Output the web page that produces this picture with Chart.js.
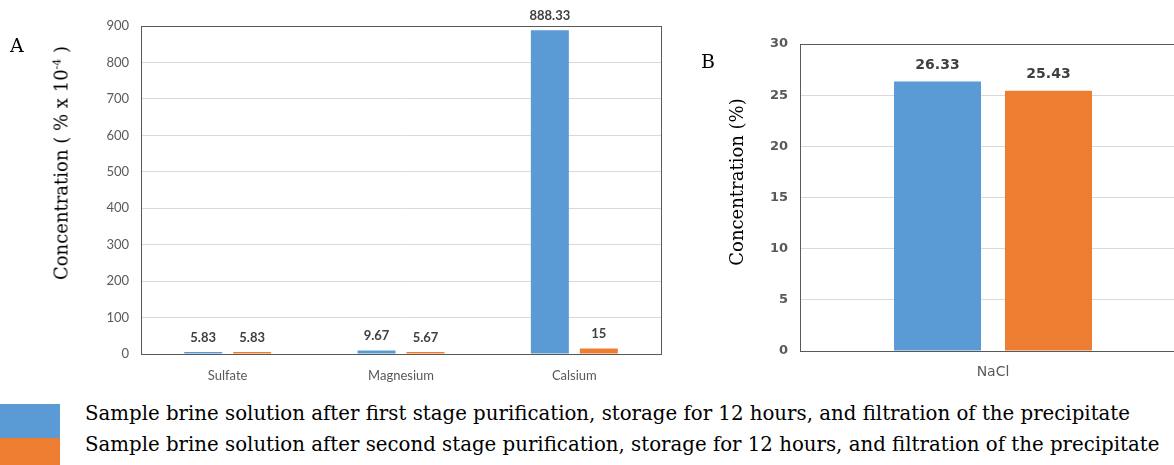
<!DOCTYPE html>
<html>
<head>
<meta charset="utf-8">
<script src="https://cdn.jsdelivr.net/npm/chart.js@4.4.0/dist/chart.umd.min.js"></script>
<style>
  html,body{margin:0;padding:0;background:#fff;width:1174px;height:465px;overflow:hidden;}
  .abs{position:absolute;}
  .serif{font-family:"DejaVu Serif",serif;color:#000;}
  .ytitle{transform:translate(-50%,-50%) rotate(-90deg);white-space:nowrap;font-size:18px;}
  .swatch{left:0;width:60px;}
  .leg{left:85px;font-size:19.75px;white-space:nowrap;}
</style>
</head>
<body>
<canvas id="chartA" class="abs" style="left:0;top:0;"></canvas>
<canvas id="chartB" class="abs" style="left:690px;top:0;"></canvas>

<div class="abs serif" style="left:10px;top:34px;font-size:19px;">A</div>
<div class="abs serif" style="left:701px;top:50px;font-size:19px;">B</div>
<div class="abs serif ytitle" style="left:61px;top:163px;">Concentration ( % x 10<sup style="font-size:11px;">-4</sup> )</div>
<div class="abs serif ytitle" style="left:736px;top:182px;">Concentration (%)</div>

<div class="abs swatch" style="top:404px;height:34px;background:#5B9BD5;"></div>
<div class="abs swatch" style="top:438px;height:27px;background:#ED7D31;"></div>
<div class="abs serif leg" id="leg1" style="top:402px;"></div>
<div class="abs serif leg" id="leg2" style="top:433px;"></div>

<script>
// panel A
const catsA   = ['Sulfate','Magnesium','Calsium'];
const firstA  = [5.83, 9.67, 888.33];
const secondA = [5.83, 5.67, 15];
// panel B
const catsB   = ['NaCl'];
const firstB  = [26.33];
const secondB = [25.43];

const seriesNames = [
  'Sample brine solution after first stage purification, storage for 12 hours, and filtration of the precipitate',
  'Sample brine solution after second stage purification, storage for 12 hours, and filtration of the precipitate'
];
document.getElementById('leg1').textContent = seriesNames[0];
document.getElementById('leg2').textContent = seriesNames[1];

const BLUE='#5B9BD5', ORANGE='#ED7D31';

// value labels above bars + box around plot area
const barLabels = {
  id:'barLabels',
  afterDatasetsDraw(chart, args, opts){
    const {ctx} = chart;
    ctx.save();
    ctx.font = opts.font;
    ctx.fillStyle = '#404040';
    ctx.textAlign = 'center';
    ctx.textBaseline = 'bottom';
    chart.data.datasets.forEach((ds,i)=>{
      chart.getDatasetMeta(i).data.forEach((bar,j)=>{
        ctx.fillText(String(ds.data[j]), bar.x, bar.y - opts.offset);
      });
    });
    ctx.restore();
  },
  afterDraw(chart){
    const {ctx, chartArea:a} = chart;
    ctx.save();
    ctx.strokeStyle = '#595959';
    ctx.lineWidth = 1;
    ctx.strokeRect(Math.round(a.left)+0.5, Math.round(a.top)+0.5, Math.round(a.right-a.left), Math.round(a.bottom-a.top));
    ctx.restore();
  }
};

function makeChart(id, w, h, cats, d1, d2, cfg){
  const cv = document.getElementById(id);
  cv.width = w; cv.height = h;
  cv.style.width = w+'px'; cv.style.height = h+'px';
  return new Chart(cv, {
    type:'bar',
    data:{labels:cats, datasets:[
      {label:seriesNames[0], data:d1, backgroundColor:BLUE, categoryPercentage:cfg.catPct, barPercentage:cfg.barPct},
      {label:seriesNames[1], data:d2, backgroundColor:ORANGE, categoryPercentage:cfg.catPct, barPercentage:cfg.barPct}
    ]},
    options:{
      responsive:false, animation:false, devicePixelRatio:1,
      layout:{padding:cfg.pad},
      plugins:{legend:{display:false}, tooltip:{enabled:false},
        barLabels:{font:cfg.labelFont, offset:cfg.labelOffset}},
      scales:{
        x:{grid:{display:false, drawTicks:false},
           border:{color:'#808080'},
           ticks:{color:'#595959', font:cfg.xFont, padding:cfg.xPad},
           afterFit(s){ s.height = cfg.xH; }},
        y:{min:0, max:cfg.max, ticks:{stepSize:cfg.step, color:'#595959', font:cfg.yFont, padding:12},
           grid:{color:'#d9d9d9', drawTicks:false},
           border:{color:'#808080'},
           afterFit(s){ s.width = cfg.yW; }}
      }
    },
    plugins:[barLabels]
  });
}

makeChart('chartA', 680, 400, catsA, firstA, secondA, {
  catPct:0.565, barPct:0.776, max:900, step:100,
  pad:{left:91, right:19, top:26, bottom:16},
  xH:30, yW:50, xPad:14,
  xFont:{family:'Lato', size:13}, yFont:{family:'Lato', size:13},
  labelFont:'bold 13px Lato', labelOffset:8
});

makeChart('chartB', 520, 400, catsB, firstB, secondB, {
  catPct:0.575, barPct:0.784, max:30, step:5,
  pad:{left:60, right:24, top:44, bottom:19},
  xH:30, yW:50, xPad:13,
  xFont:{family:'DejaVu Sans', size:14}, yFont:{family:'DejaVu Sans', size:13, weight:'bold'},
  labelFont:'bold 14px "DejaVu Sans"', labelOffset:9
});
</script>
</body>
</html>
